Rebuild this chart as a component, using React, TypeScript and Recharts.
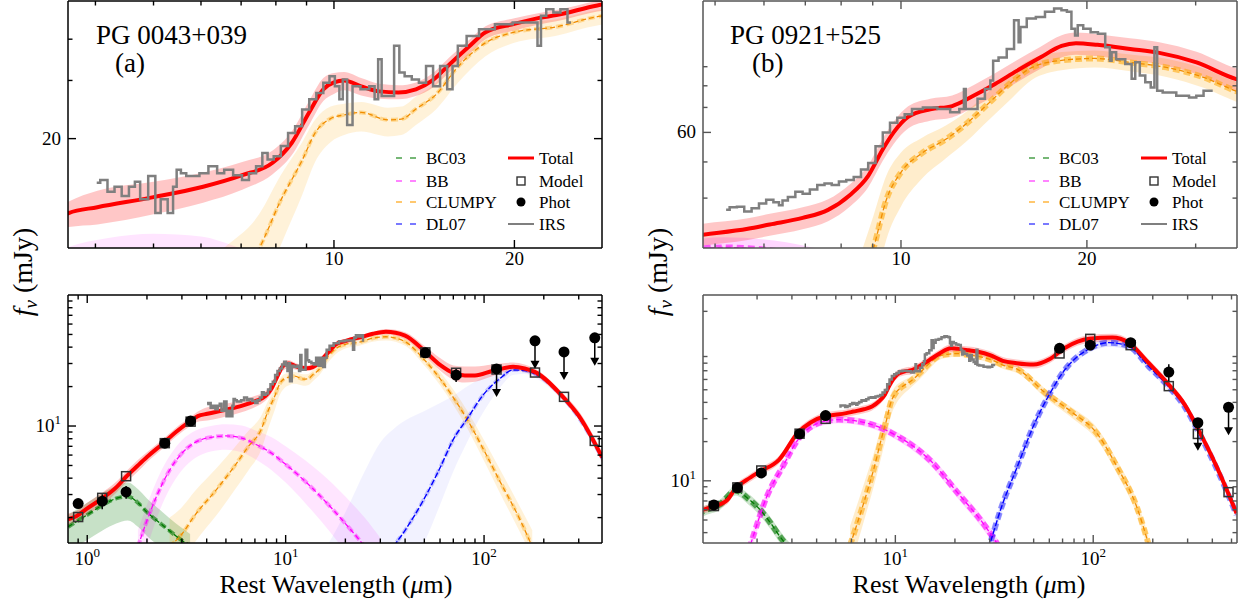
import {
	Area,
	ComposedChart,
	Legend,
	Line,
	Scatter,
	XAxis,
	YAxis,
} from "recharts"

const PAGE_W = 1243
const PAGE_H = 601
const SERIF = '"Liberation Serif", "Times New Roman", serif'

const RED = "#ff0000"
const ORANGE = "#ffa500"
const MAGENTA = "#ff00ff"
const BLUE = "#0000ff"
const GREEN = "#007800"
const IRS_GRAY = "#7f7f7f"

// ---------- PG 0043+039 ----------
const A_TOT_W = [0.8, 0.88, 1.0, 1.19, 1.4, 1.57, 1.8, 2.0, 2.42, 2.8, 3.31, 3.61, 4.03, 5.0, 6.05, 7.03, 7.9, 8.5, 9.09, 9.6, 10.0, 10.4, 11.1, 11.9, 12.8, 13.7, 14.6, 15.6, 16.8, 17.9, 20, 22, 23.5, 27.5, 32, 40, 50, 60, 70, 80, 90, 110, 140, 160, 180, 250, 300, 393]
const A_TOT = [1.94, 2.05, 2.35, 2.8, 3.4, 4.1, 5.0, 5.8, 7.4, 9.0, 10.9, 11.9, 12.4, 13.3, 14.3, 15.5, 16.9, 19.4, 24.0, 28.2, 29.6, 30.0, 28.8, 27.8, 27.6, 28.2, 30.0, 33.6, 38.0, 42.0, 44.5, 46.4, 47.3, 50.6, 52.5, 49, 37.5, 29.3, 25.4, 24.3, 24.3, 26.3, 28.3, 27.5, 25.9, 16.7, 12.0, 5.8]
const A_TOT_LO = [1.75, 1.85, 2.1, 2.5, 3.1, 3.7, 4.5, 5.3, 6.8, 8.3, 10.0, 10.8, 11.0, 11.8, 12.8, 14.0, 15.6, 17.8, 22.0, 26.0, 27.3, 28.0, 27.0, 26.4, 26.3, 26.9, 28.5, 31.8, 36.0, 40.0, 42.5, 44.3, 45.3, 48.5, 50, 46, 34.5, 26.5, 22.5, 21.5, 21.8, 24.0, 26.5, 25.8, 24.3, 15.6, 11.2, 5.3]
const A_TOT_HI = [2.15, 2.25, 2.6, 3.1, 3.75, 4.5, 5.5, 6.3, 8.0, 9.7, 11.7, 12.9, 13.9, 14.8, 15.8, 17.0, 18.4, 21.0, 26.0, 30.5, 31.6, 31.8, 30.5, 29.3, 29.0, 29.6, 31.5, 35.3, 39.8, 43.8, 46.3, 48.0, 49.0, 52.3, 55, 52, 41, 33, 29, 28.5, 28.5, 29.5, 30.5, 29.5, 27.5, 17.8, 13.0, 6.3]

const A_CL_W = [2.6, 3.0, 3.5, 4.5, 5.5, 6.5, 7.5, 8.15, 8.85, 9.3, 9.87, 10.4, 11.1, 12.3, 12.95, 13.7, 14.8, 16.1, 17.9, 20, 23.5, 27.5, 32, 40, 50, 60, 70, 82, 100, 120, 150, 175]
const A_CL = [1.2, 1.5, 2.1, 3.3, 4.9, 7.0, 9.3, 13, 17.2, 20.8, 23, 23.6, 24, 22.8, 22.9, 24.6, 27.2, 33, 39, 42, 43.6, 46.8, 48, 44, 32, 23, 16.5, 11.3, 6.5, 3.8, 2.0, 1.2]
const A_CL_LO = [0.7, 0.9, 1.3, 2.1, 3.2, 4.6, 6.5, 9.5, 13.5, 17, 19.5, 20.5, 21, 20.3, 20.5, 22, 24.5, 29.5, 35.5, 39, 41, 44, 45, 41, 29, 20.5, 14.5, 9.7, 5.4, 3.1, 1.6, 1.0]
const A_CL_HI = [2.0, 2.4, 3.2, 4.8, 6.8, 9.2, 11.8, 15.5, 19.5, 22.8, 25, 25.5, 25.8, 24.8, 25, 26.8, 29.5, 35.5, 41.5, 44.5, 46, 49, 50.5, 47, 35, 26, 19, 13.2, 7.8, 4.7, 2.5, 1.6]

const A_BB_W = [1.8, 2.0, 2.3, 2.6, 3.0, 3.5, 4.2, 5.0, 6.0, 7.0, 8.5, 10, 12.5, 15, 20, 25, 30]
const A_BB = [1.2, 1.9, 3.2, 4.6, 6.2, 7.5, 8.2, 8.4, 8.1, 7.3, 6.2, 5.1, 3.8, 2.9, 1.8, 1.2, 0.8]
const A_BB_LO = [0.8, 1.2, 2.2, 3.3, 4.6, 5.7, 6.4, 6.6, 6.3, 5.6, 4.6, 3.7, 2.6, 1.9, 1.1, 0.7, 0.45]
const A_BB_HI = [1.6, 2.5, 4.2, 5.9, 7.8, 9.2, 10.0, 10.3, 10.1, 9.3, 8.2, 7.0, 5.5, 4.4, 2.9, 2.0, 1.4]

const A_BC_W = [0.8, 1.0, 1.2, 1.4, 1.6, 1.8, 2.0, 2.4, 2.8, 3.3]
const A_BC = [1.7, 2.1, 2.5, 2.8, 2.9, 2.6, 2.2, 1.75, 1.45, 1.2]
const A_BC_LO = [1.1, 1.35, 1.6, 1.8, 1.9, 1.7, 1.45, 1.15, 0.95, 0.8]
const A_BC_HI = [2.1, 2.6, 3.1, 3.5, 3.7, 3.3, 2.8, 2.2, 1.8, 1.5]

const A_DL_W = [15, 20, 25, 30, 35, 40, 50, 60, 70, 82, 100, 120, 140, 160, 180, 250, 300, 393]
const A_DL = [0.1, 0.2, 0.4, 0.8, 1.2, 1.6, 2.8, 4.8, 7.9, 11.3, 17.6, 23, 26.8, 26.5, 25, 16.5, 11.6, 5.7]
const A_DL_LO = [0.05, 0.1, 0.2, 0.4, 0.6, 0.8, 1.3, 2.5, 4.5, 7.5, 13, 19.5, 24.5, 25, 23.5, 15.5, 11.0, 5.3]
const A_DL_HI = [1.0, 2.2, 4.5, 7.5, 9.5, 11, 13, 15, 17, 20, 24, 27.5, 29, 28, 26.5, 17.5, 12.4, 6.2]

const A_IRS_W = [4.02, 4.13, 4.25, 4.36, 4.49, 4.61, 4.70, 4.80, 5.00, 5.07, 5.21, 5.35, 5.43, 5.50, 5.61, 5.73, 5.88, 6.05, 6.30, 6.47, 6.65, 6.93, 7.12, 7.31, 7.52, 7.67, 7.83, 8.04, 8.27, 8.50, 8.73, 8.97, 9.22, 9.47, 9.73, 9.93, 10.14, 10.28, 10.41, 10.63, 10.85, 11.30, 11.61, 11.77, 11.93, 12.09, 12.43, 12.77, 12.94, 13.30, 13.67, 14.05, 14.44, 14.83, 15.24, 15.66, 15.88, 16.31, 16.99, 17.94, 19.20, 20.56, 21.71, 22.00, 22.30, 22.91, 23.55, 24.19, 24.86]
const A_IRS = [14.7, 15.0, 13.8, 14.3, 13.4, 14.3, 14.8, 13.1, 15.4, 11.9, 13.1, 11.9, 14.3, 16.1, 15.7, 15.4, 15.4, 15.7, 16.5, 15.7, 16.1, 15.5, 15.0, 15.7, 16.5, 18.1, 17.3, 17.7, 19.0, 20.8, 21.8, 24.5, 26.3, 27.5, 29.5, 30.9, 28.8, 26.3, 30.2, 22.0, 28.8, 28.2, 28.8, 26.3, 34.8, 26.9, 26.9, 38.2, 31.7, 30.9, 30.2, 29.5, 33.2, 28.8, 33.2, 28.2, 33.2, 38.2, 40.9, 42.9, 44.4, 44.9, 44.9, 38.2, 47.1, 49.3, 48.2, 49.3, 44.9]

const A_PH_W = [0.90, 1.19, 1.57, 2.46, 3.32, 50.6, 72.3]
const A_PH = [2.56, 2.67, 3.14, 7.4, 10.9, 36.2, 24.5]
const A_PH_ERR = [0.15, 0.35, 0.35, 0.3, 0.4, 2.5, 2.8]
const A_UL_W = [115.6, 180.6, 252.9, 361.3]
const A_UL = [27.3, 44.7, 36.8, 47.1]
const A_MD_W = [0.90, 1.19, 1.57, 2.46, 3.32, 50.6, 72.3, 115.6, 180.6, 252.9, 361.3]
const A_MD = [2.02, 2.83, 4.14, 7.4, 10.8, 36.5, 25.5, 27.0, 25.6, 16.7, 7.7]

// ---------- PG 0921+525 ----------
const B_TOT_W = [1.06, 1.18, 1.41, 1.56, 1.78, 2.07, 2.58, 3.22, 3.73, 4.41, 4.70, 5.65, 6.13, 6.93, 7.62, 8.27, 8.85, 9.34, 9.73, 10.27, 11.15, 12.1, 13.1, 14.2, 15.4, 16.8, 18.2, 19.2, 20.8, 23.5, 26.2, 30.1, 34.9, 41, 49.8, 60.1, 72.2, 95.2, 125, 151, 190, 240, 290, 347, 420, 530]
const B_TOT = [5.98, 6.3, 7.1, 8.8, 10.2, 11.8, 14.5, 23.4, 28, 31.3, 31.8, 33.1, 34.0, 35.4, 37.2, 40.8, 45.9, 54.0, 60, 66, 69.2, 70.6, 75.2, 80.9, 87.7, 95.2, 102.3, 104, 103, 100.4, 98, 92.4, 83.4, 80, 78, 85.7, 105, 123, 126, 115, 80.7, 55.1, 38.5, 23.3, 12.9, 5.64]
const B_TOT_LO = [5.6, 5.9, 6.6, 8.2, 9.5, 11.0, 13.5, 21.8, 26.1, 29.2, 29.7, 30.9, 31.7, 33.0, 34.7, 38.0, 42.8, 50.3, 55.9, 61.5, 64.5, 65.8, 70.1, 75.4, 81.7, 88.7, 95.3, 96.9, 96.0, 93.6, 91.3, 86.1, 77.7, 74.5, 72.7, 79.9, 97.9, 114.6, 117.4, 107.2, 75.2, 51.3, 35.9, 21.7, 12.0, 5.2]
const B_TOT_HI = [6.4, 6.7, 7.6, 9.4, 10.9, 12.6, 15.5, 25.0, 29.9, 33.4, 34.0, 35.3, 36.3, 37.8, 39.7, 43.6, 49.0, 57.7, 64.1, 70.5, 73.9, 75.4, 80.3, 86.4, 93.7, 101.7, 109.3, 111.1, 110.0, 107.2, 104.7, 98.7, 89.1, 85.4, 83.3, 91.5, 112.1, 131.4, 134.6, 122.8, 86.2, 58.9, 41.1, 24.9, 13.8, 6.1]

const B_CL_W = [5.9, 6.5, 7.16, 7.8, 8.56, 9.03, 9.47, 10, 10.8, 11.8, 12.8, 13.9, 15.1, 16.3, 18.2, 20.6, 23.5, 26.9, 30.9, 34.9, 41.4, 57.2, 79, 104, 131.6, 166, 190]
const B_CL = [3.2, 5.0, 8.0, 12.5, 21.9, 29.4, 39.6, 46.9, 52.7, 57.4, 63.6, 72.1, 81.8, 89.6, 93.6, 94.7, 92.4, 89.6, 84.3, 77.4, 71.8, 47.4, 33.2, 23.3, 12.9, 6.3, 3.3]
const B_CL_LO = [2.2, 3.5, 5.8, 9.2, 16, 22, 31, 38, 45, 51, 57, 65, 74, 83, 88, 89.5, 87.5, 84.5, 79, 72.5, 67, 43.5, 30, 20.8, 11.4, 5.5, 2.9]
const B_CL_HI = [4.5, 7.0, 11, 16.5, 27.5, 36, 46, 53, 58, 62.5, 68.5, 77.5, 87, 94.5, 98.5, 99.5, 97, 94.5, 89, 82, 76.5, 51, 36, 25.8, 14.5, 7.1, 3.8]

const B_BB_W = [1.75, 1.86, 2.24, 2.7, 3.22, 4.1, 5.16, 7.13, 10.3, 14.9, 20.7, 28.6, 34]
const B_BB = [2.5, 3.3, 7.57, 12.9, 20.7, 27.8, 29.5, 27.8, 21.9, 14.5, 8.04, 4.44, 3.0]
const B_BB_LO = [2.2, 2.9, 6.8, 11.8, 19.2, 26.0, 27.6, 26.0, 20.3, 13.3, 7.3, 4.0, 2.7]
const B_BB_HI = [2.8, 3.7, 8.4, 14.0, 22.2, 29.6, 31.4, 29.6, 23.5, 15.7, 8.8, 4.9, 3.3]

const B_BC_W = [1.0, 1.06, 1.3, 1.56, 1.8, 2.07, 2.35, 2.62, 3.0, 3.5]
const B_BC = [5.5, 5.8, 6.6, 8.4, 7.3, 6.0, 4.7, 3.7, 2.9, 2.3]
const B_BC_LO = [5.0, 5.3, 6.0, 7.7, 6.6, 5.4, 4.2, 3.3, 2.6, 2.0]
const B_BC_HI = [6.0, 6.3, 7.2, 9.1, 8.0, 6.6, 5.2, 4.1, 3.2, 2.6]

const B_DL_W = [27, 29.9, 34.4, 41.4, 49.8, 60, 72.2, 95.2, 120, 151, 190, 240, 290, 347, 420, 530]
const B_DL = [2.0, 3.2, 6.3, 12.9, 26.2, 46, 71.8, 103, 115, 108, 76, 53, 37, 22.5, 12.5, 5.5]
const B_DL_LO = [1.7, 2.8, 5.6, 11.6, 23.8, 42.5, 67, 96, 107, 101, 71, 49.5, 34.5, 21, 11.6, 5.1]
const B_DL_HI = [2.3, 3.6, 7.0, 14.2, 28.6, 49.5, 76.5, 110, 123, 115, 81, 57, 39.5, 24, 13.4, 5.9]

const B_IRS_W = [5.21, 5.35, 5.50, 5.65, 5.81, 5.97, 6.13, 6.30, 6.39, 6.47, 6.65, 6.84, 7.02, 7.22, 7.42, 7.62, 7.83, 8.04, 8.27, 8.50, 8.73, 8.97, 9.22, 9.47, 9.73, 10.0, 10.28, 10.56, 11.15, 11.77, 12.26, 12.60, 12.69, 12.77, 13.12, 13.49, 13.86, 14.05, 14.15, 14.63, 15.04, 15.45, 15.56, 15.66, 16.31, 16.76, 17.46, 17.94, 18.44, 18.69, 19.07, 19.20, 19.46, 20.0, 20.56, 21.12, 21.71, 21.86, 22.0, 22.61, 23.55, 23.71, 24.19, 24.53, 25.20, 25.55, 25.90, 26.08, 26.98, 28.87, 29.67, 30.48, 31.32, 31.97]
const B_IRS = [37.2, 37.8, 37.9, 36.8, 37.6, 38.7, 39.6, 39.0, 38.3, 39.4, 40.3, 41.6, 41.1, 42.2, 43.4, 43.8, 43.4, 44.3, 44.7, 45.6, 47.7, 49.7, 55.1, 60.0, 63.7, 65.7, 67.1, 69.3, 70.0, 69.3, 67.9, 69.3, 78.4, 69.3, 69.3, 73.8, 78.4, 82.6, 93.3, 95.3, 100.4, 119.9, 104.7, 115.0, 121.1, 122.4, 126.3, 128.9, 127.5, 126.3, 113.8, 109.1, 116.3, 113.8, 111.4, 110.3, 101.5, 93.3, 98.4, 94.3, 91.5, 83.5, 92.5, 85.2, 81.8, 79.2, 101.5, 77.6, 76.8, 75.2, 74.4, 75.2, 77.6, 77.6]

const B_PH_W = [1.21, 1.59, 2.10, 3.28, 4.44, 67.6, 96.6, 154.6, 241]
const B_PH = [6.53, 8.83, 11.5, 22.9, 31.7, 104, 110, 115, 68.4]
const B_PH_ERR = [0.3, 0.4, 0.5, 0.9, 1.3, 5, 5, 5, 10]
const B_UL_W = [338, 483]
const B_UL = [27.9, 36.7]
const B_MD_W = [1.21, 1.59, 2.10, 3.28, 4.44, 67.6, 96.6, 154.6, 241, 338, 483]
const B_MD = [6.4, 8.9, 12.0, 23.0, 29.9, 95, 123, 110, 53.3, 22.9, 8.18]

// ---------- axes ----------
const TL_X_MAJOR = [10, 20]
const TL_X_MINOR = [4, 5, 6, 7, 8, 9]
const TL_Y_MAJOR = [20]
const TL_Y_MINOR = [30, 40]
const TR_X_MAJOR = [10, 20]
const TR_X_MINOR = [5, 6, 7, 8, 9, 30]
const TR_Y_MAJOR = [60]
const TR_Y_MINOR = [40, 50, 70, 80, 90]
const BL_X_MAJOR = [1, 10, 100]
const BL_X_MINOR = [0.9, 2, 3, 4, 5, 6, 7, 8, 9, 20, 30, 40, 50, 60, 70, 80, 90, 200, 300]
const BL_Y_MAJOR = [10]
const BL_Y_MINOR = [2, 3, 4, 5, 6, 7, 8, 9, 20, 30, 40, 50, 60, 70, 80, 90]
const BR_X_MAJOR = [10, 100]
const BR_X_MINOR = [2, 3, 4, 5, 6, 7, 8, 9, 20, 30, 40, 50, 60, 70, 80, 90, 200, 300, 400, 500]
const BR_Y_MAJOR = [10]
const BR_Y_MINOR = [4, 5, 6, 7, 8, 9, 20, 30, 40, 50, 60, 70, 80, 90, 200]

type TickLabel = [string, string]
const TL_X_LABELS: TickLabel[] = [["10", ""], ["20", ""]]
const TL_Y_LABELS: TickLabel[] = [["20", ""]]
const TR_Y_LABELS: TickLabel[] = [["60", ""]]
const BL_X_LABELS: TickLabel[] = [["10", "0"], ["10", "1"], ["10", "2"]]
const BR_X_LABELS: TickLabel[] = [["10", "1"], ["10", "2"]]
const LOG_Y_LABELS: TickLabel[] = [["10", "1"]]

type Pt = { w: number; f: number }
type Rg = { w: number; r: [number, number] }
type Tk = { w: number; f: number; major: boolean }
const pts = (w: number[], f: number[]): Pt[] => w.map((x, i) => ({ w: x, f: f[i] }))
const rng = (w: number[], lo: number[], hi: number[]): Rg[] => w.map((x, i) => ({ w: x, r: [lo[i], hi[i]] }))
// vertical error segments, one two-point series per photometric point
const errSegs = (w: number[], f: number[], e: number[]): Pt[][] =>
	w.map((x, i) => [
		{ w: x, f: f[i] - e[i] },
		{ w: x, f: f[i] + e[i] },
	])
// tick positions along one edge of the frame
const xEdge = (major: number[], minor: number[], f: number): Tk[] => [
	...major.map((w) => ({ w, f, major: true })),
	...minor.map((w) => ({ w, f, major: false })),
]
const yEdge = (major: number[], minor: number[], w: number): Tk[] => [
	...major.map((f) => ({ w, f, major: true })),
	...minor.map((f) => ({ w, f, major: false })),
]

type Alpha = { bc: number; bb: number; cl: number; dl: number }

interface Sed {
	total: Pt[]
	totalBand: Rg[]
	clumpy: Pt[]
	clumpyBand: Rg[]
	bb: Pt[]
	bbBand: Rg[]
	bc03: Pt[]
	bc03Band: Rg[]
	dl07: Pt[]
	dl07Band: Rg[]
	irs: Pt[]
	phot: Pt[]
	errs: Pt[][]
	limits: Pt[]
	model: Pt[]
	coreWidth: number
	coreAlpha: Alpha
	bandAlpha: Alpha
}

const SED_A: Sed = {
	total: pts(A_TOT_W, A_TOT),
	totalBand: rng(A_TOT_W, A_TOT_LO, A_TOT_HI),
	clumpy: pts(A_CL_W, A_CL),
	clumpyBand: rng(A_CL_W, A_CL_LO, A_CL_HI),
	bb: pts(A_BB_W, A_BB),
	bbBand: rng(A_BB_W, A_BB_LO, A_BB_HI),
	bc03: pts(A_BC_W, A_BC),
	bc03Band: rng(A_BC_W, A_BC_LO, A_BC_HI),
	dl07: pts(A_DL_W, A_DL),
	dl07Band: rng(A_DL_W, A_DL_LO, A_DL_HI),
	irs: pts(A_IRS_W, A_IRS),
	phot: pts(A_PH_W, A_PH),
	errs: errSegs(A_PH_W, A_PH, A_PH_ERR),
	limits: pts(A_UL_W, A_UL),
	model: pts(A_MD_W, A_MD),
	coreWidth: 4,
	coreAlpha: { bc: 0.6, bb: 0.4, cl: 0.35, dl: 0.2 },
	bandAlpha: { bc: 0.22, bb: 0.1, cl: 0.15, dl: 0.05 },
}

const SED_B: Sed = {
	total: pts(B_TOT_W, B_TOT),
	totalBand: rng(B_TOT_W, B_TOT_LO, B_TOT_HI),
	clumpy: pts(B_CL_W, B_CL),
	clumpyBand: rng(B_CL_W, B_CL_LO, B_CL_HI),
	bb: pts(B_BB_W, B_BB),
	bbBand: rng(B_BB_W, B_BB_LO, B_BB_HI),
	bc03: pts(B_BC_W, B_BC),
	bc03Band: rng(B_BC_W, B_BC_LO, B_BC_HI),
	dl07: pts(B_DL_W, B_DL),
	dl07Band: rng(B_DL_W, B_DL_LO, B_DL_HI),
	irs: pts(B_IRS_W, B_IRS),
	phot: pts(B_PH_W, B_PH),
	errs: errSegs(B_PH_W, B_PH, B_PH_ERR),
	limits: pts(B_UL_W, B_UL),
	model: pts(B_MD_W, B_MD),
	coreWidth: 6,
	coreAlpha: { bc: 0.6, bb: 0.6, cl: 0.55, dl: 0.45 },
	bandAlpha: { bc: 0.2, bb: 0.16, cl: 0.2, dl: 0.1 },
}

type Side = "bottom" | "left"

// label text for the major ticks; labels[i] belongs to major[i]
function makeLabel(side: Side, major: number[], labels: TickLabel[], labelDy: number) {
	return function TickText(p: any) {
		const v = p.payload?.value as number
		const idx = major.findIndex((m) => Math.abs(m - v) < 1e-9)
		const lab = labels[idx]
		if (!lab) return <g />
		const x = side === "bottom" ? p.x : p.x - 7
		const y = side === "bottom" ? p.y + labelDy : p.y + 6
		return (
			<text x={x} y={y} textAnchor={side === "bottom" ? "middle" : "end"} fontFamily={SERIF} fontSize={19} fill="#000">
				{lab[0]}
				{lab[1] && <tspan dy={-8} fontSize={13}>{lab[1]}</tspan>}
			</text>
		)
	}
}

function LegendBox() {
	const rows = [12, 35, 56, 78]
	const dashes: [string, string][] = [
		["BC03", "#4aa04a"],
		["BB", "#ff5cff"],
		["CLUMPY", "#ffb640"],
		["DL07", "#4d4dff"],
	]
	return (
		<svg width={235} height={92} style={{ overflow: "visible" }}>
			<g fontFamily={SERIF} fontSize={17} fill="#000">
				{dashes.map(([name, c], i) => (
					<g key={name}>
						<line x1={4} x2={24} y1={rows[i]} y2={rows[i]} stroke={c} strokeWidth={1.5} strokeDasharray="6 8" />
						<text x={34} y={rows[i] + 6}>{name}</text>
					</g>
				))}
				<line x1={116} x2={142} y1={rows[0]} y2={rows[0]} stroke={RED} strokeWidth={3} />
				<text x={147} y={rows[0] + 6}>Total</text>
				<rect x={125} y={rows[1] - 4} width={8} height={8} fill="none" stroke="#333" strokeWidth={1.4} />
				<text x={147} y={rows[1] + 6}>Model</text>
				<circle cx={129} cy={rows[2]} r={4.5} fill="#000" />
				<text x={147} y={rows[2] + 6}>Phot</text>
				<line x1={116} x2={142} y1={rows[3]} y2={rows[3]} stroke={IRS_GRAY} strokeWidth={2} />
				<text x={147} y={rows[3] + 6}>IRS</text>
			</g>
		</svg>
	)
}

interface PanelCfg {
	sed: Sed
	rect: [number, number, number, number]
	xDomain: [number, number]
	yDomain: [number, number]
	xMajor: number[]
	xMinor: number[]
	yMajor: number[]
	yMinor: number[]
	xLabels: TickLabel[]
	yLabels: TickLabel[]
	xLabelDy: number
	frame: string
	legendLeft?: number
}

const PANELS: PanelCfg[] = [
	{ sed: SED_A, rect: [68, 2, 601, 248], xDomain: [3.6, 28], yDomain: [9.33, 52.2], xMajor: TL_X_MAJOR, xMinor: TL_X_MINOR, yMajor: TL_Y_MAJOR, yMinor: TL_Y_MINOR, xLabels: TL_X_LABELS, yLabels: TL_Y_LABELS, xLabelDy: 17, frame: "#000", legendLeft: 392 },
	{ sed: SED_B, rect: [703, 2, 1236, 248], xDomain: [4.78, 35], yDomain: [29.4, 135], xMajor: TR_X_MAJOR, xMinor: TR_X_MINOR, yMajor: TR_Y_MAJOR, yMinor: TR_Y_MINOR, xLabels: TL_X_LABELS, yLabels: TR_Y_LABELS, xLabelDy: 17, frame: "#555", legendLeft: 1025 },
	{ sed: SED_A, rect: [68, 296, 601, 543], xDomain: [0.8, 393], yDomain: [1.28, 100], xMajor: BL_X_MAJOR, xMinor: BL_X_MINOR, yMajor: BL_Y_MAJOR, yMinor: BL_Y_MINOR, xLabels: BL_X_LABELS, yLabels: LOG_Y_LABELS, xLabelDy: 22, frame: "#000" },
	{ sed: SED_B, rect: [703, 296, 1236, 543], xDomain: [1.066, 533], yDomain: [3.33, 267], xMajor: BR_X_MAJOR, xMinor: BR_X_MINOR, yMajor: BR_Y_MAJOR, yMinor: BR_Y_MINOR, xLabels: BR_X_LABELS, yLabels: LOG_Y_LABELS, xLabelDy: 22, frame: "#555" },
]

const band = (data: Rg[], color: string, opacity: number) => (
	<Area data={data} dataKey="r" type="monotone" stroke="none" fill={color} fillOpacity={opacity} isAnimationActive={false} activeDot={false} />
)

const dashed = (data: Pt[], color: string, width: number, dash: string, opacity = 1) => (
	<Line data={data} dataKey="f" type="monotone" stroke={color} strokeWidth={width} strokeDasharray={dash} strokeOpacity={opacity} dot={false} activeDot={false} isAnimationActive={false} />
)

type Dir = "up" | "down" | "right" | "left"
// inward tick marks drawn at points on the frame edge
const tickMarks = (data: Tk[], dir: Dir, color: string) => (
	<Scatter
		data={data}
		dataKey="f"
		isAnimationActive={false}
		legendType="none"
		shape={(p: any) => {
			const len = p.payload?.major ? 8 : 4.5
			const dx = dir === "right" ? len : dir === "left" ? -len : 0
			const dy = dir === "up" ? -len : dir === "down" ? len : 0
			return <line x1={p.cx} y1={p.cy} x2={p.cx + dx} y2={p.cy + dy} stroke={color} strokeWidth={1.4} />
		}}
	/>
)

function Panel({ cfg }: { cfg: PanelCfg }) {
	const { sed, rect, frame } = cfg
	const margin = { left: rect[0] - 1, top: rect[1] - 1, right: PAGE_W - rect[2] - 1, bottom: PAGE_H - rect[3] - 1 }
	const axisLine = { stroke: frame, strokeWidth: 1.5 }
	const cw = sed.coreWidth
	const ca = sed.coreAlpha
	const a = sed.bandAlpha
	const xCommon = { type: "number" as const, scale: "log" as const, domain: cfg.xDomain, allowDataOverflow: true, interval: 0, height: 1, dataKey: "w" }
	const yCommon = { type: "number" as const, scale: "log" as const, domain: cfg.yDomain, allowDataOverflow: true, interval: 0, width: 1 }
	const [x0, x1] = cfg.xDomain
	const [y0, y1] = cfg.yDomain
	return (
		<div style={{ position: "absolute", left: 0, top: 0 }}>
			<ComposedChart width={PAGE_W} height={PAGE_H} margin={margin}>
				<XAxis {...xCommon} ticks={cfg.xMajor} tickSize={0} tickMargin={0} tickLine={false} axisLine={axisLine} tick={makeLabel("bottom", cfg.xMajor, cfg.xLabels, cfg.xLabelDy)} />
				<YAxis {...yCommon} ticks={cfg.yMajor} tickSize={0} tickMargin={0} tickLine={false} axisLine={axisLine} tick={makeLabel("left", cfg.yMajor, cfg.yLabels, 0)} />
				<XAxis {...xCommon} xAxisId="top" orientation="top" mirror ticks={cfg.xMajor} tick={false} tickLine={false} axisLine={axisLine} />
				<YAxis {...yCommon} yAxisId="right" orientation="right" mirror ticks={cfg.yMajor} tick={false} tickLine={false} axisLine={axisLine} />

				{band(sed.bc03Band, GREEN, a.bc)}
				{band(sed.bbBand, MAGENTA, a.bb)}
				{band(sed.clumpyBand, ORANGE, a.cl)}
				{band(sed.dl07Band, BLUE, a.dl)}

				{dashed(sed.bc03, GREEN, cw, "7 4", ca.bc)}
				{dashed(sed.bb, MAGENTA, cw, "7 4", ca.bb)}
				{dashed(sed.clumpy, ORANGE, cw, "7 4", ca.cl)}
				{dashed(sed.dl07, BLUE, cw, "7 4", ca.dl)}

				{dashed(sed.bc03, GREEN, 1.3, "5 3")}
				{dashed(sed.bb, MAGENTA, 1.3, "5 3")}
				{dashed(sed.clumpy, "#f08c00", 1.3, "5 3")}
				{dashed(sed.dl07, BLUE, 1.4, "6 2")}

				{band(sed.totalBand, RED, 0.22)}
				<Line data={sed.total} dataKey="f" type="monotone" stroke={RED} strokeWidth={4} dot={false} activeDot={false} isAnimationActive={false} />
				<Line data={sed.irs} dataKey="f" type="step" stroke={IRS_GRAY} strokeWidth={2.5} dot={false} activeDot={false} isAnimationActive={false} />

				{sed.errs.map((seg, i) => (
					<Line key={`e${i}`} data={seg} dataKey="f" type="linear" stroke="#000" strokeWidth={1.5} dot={false} activeDot={false} isAnimationActive={false} />
				))}

				<Scatter
					data={sed.model}
					dataKey="f"
					isAnimationActive={false}
					shape={(p: any) => <rect x={p.cx - 4.5} y={p.cy - 4.5} width={9} height={9} fill="none" stroke="#333" strokeWidth={1.5} />}
				/>
				<Scatter data={sed.phot} dataKey="f" isAnimationActive={false} shape={(p: any) => <circle cx={p.cx} cy={p.cy} r={5.5} fill="#000" />} />
				<Scatter
					data={sed.limits}
					dataKey="f"
					isAnimationActive={false}
					shape={(p: any) => (
						<g>
							<line x1={p.cx} x2={p.cx} y1={p.cy} y2={p.cy + 22} stroke="#000" strokeWidth={1.5} />
							<path d={`M${p.cx - 4.5},${p.cy + 20} L${p.cx + 4.5},${p.cy + 20} L${p.cx},${p.cy + 28} Z`} fill="#000" />
							<circle cx={p.cx} cy={p.cy} r={5.5} fill="#000" />
						</g>
					)}
				/>

				{tickMarks(xEdge(cfg.xMajor, cfg.xMinor, y0), "up", frame)}
				{tickMarks(xEdge(cfg.xMajor, cfg.xMinor, y1), "down", frame)}
				{tickMarks(yEdge(cfg.yMajor, cfg.yMinor, x0), "right", frame)}
				{tickMarks(yEdge(cfg.yMajor, cfg.yMinor, x1), "left", frame)}

				{cfg.legendLeft !== undefined && (
					<Legend
						verticalAlign="middle"
						align="center"
						layout="horizontal"
						content={() => <LegendBox />}
						wrapperStyle={{ left: cfg.legendLeft, top: 146, width: 235, height: 92 }}
					/>
				)}
			</ComposedChart>
		</div>
	)
}

const OBJECTS = [
	{ name: "PG 0043+039", tag: "(a)", x: 96, tagX: 115 },
	{ name: "PG 0921+525", tag: "(b)", x: 730, tagX: 752 },
]
const X_TITLE_CENTERS = [336, 969]
const Y_TITLE_X = [32, 667]

export default function App() {
	return (
		<div style={{ position: "absolute", left: 0, top: 0, width: PAGE_W, height: PAGE_H, background: "#fff", overflow: "hidden" }}>
			{PANELS.map((cfg, i) => (
				<Panel key={i} cfg={cfg} />
			))}
			<svg width={PAGE_W} height={PAGE_H} style={{ position: "absolute", left: 0, top: 0, pointerEvents: "none" }} fontFamily={SERIF} fill="#000">
				{OBJECTS.map((o) => (
					<g key={o.name} fontSize={27}>
						<text x={o.x} y={44}>{o.name}</text>
						<text x={o.tagX} y={72}>{o.tag}</text>
					</g>
				))}
				{X_TITLE_CENTERS.map((cx) => (
					<text key={cx} x={cx} y={593} textAnchor="middle" fontSize={26}>
						Rest Wavelength (<tspan fontStyle="italic">μ</tspan>m)
					</text>
				))}
				{Y_TITLE_X.map((x) => (
					<text key={x} x={x} y={272} transform={`rotate(-90 ${x} 272)`} textAnchor="middle" fontSize={28}>
						<tspan fontStyle="italic">f</tspan>
						<tspan fontStyle="italic" fontSize={19} dy={5}>ν</tspan>
						<tspan dy={-5}> (mJy)</tspan>
					</text>
				))}
			</svg>
		</div>
	)
}
